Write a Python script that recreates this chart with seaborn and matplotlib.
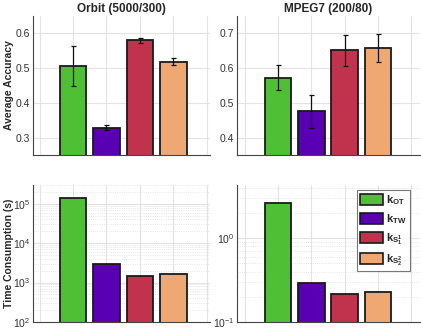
import numpy as np
import pandas as pd
import matplotlib
matplotlib.use("Agg")
import matplotlib.pyplot as plt
import seaborn as sns
from matplotlib.ticker import LogLocator, NullFormatter

sns.set_style("white")
plt.rcParams['font.family'] = ['Liberation Sans', 'DejaVu Sans']
plt.rcParams['mathtext.fontset'] = 'custom'
plt.rcParams['mathtext.rm'] = 'Liberation Sans'
plt.rcParams['mathtext.bf'] = 'Liberation Sans:bold'

# Data
methods = ['OT', 'TW', 'S1', 'S2']
labels = [r'$\mathbf{k}_{\mathbf{OT}}$', r'$\mathbf{k}_{\mathbf{TW}}$',
          r'$\mathbf{k}_{\mathbf{S}_\mathbf{1}^\mathbf{1}}$', r'$\mathbf{k}_{\mathbf{S}_\mathbf{2}^\mathbf{2}}$']
colors = ['#4fbf35', '#5a00b4', '#c1334d', '#f0a872']

orbit_acc = [0.507, 0.328, 0.580, 0.519]
orbit_err = [0.057, 0.007, 0.007, 0.011]
mpeg_acc = [0.573, 0.476, 0.651, 0.658]
mpeg_err = [0.037, 0.048, 0.045, 0.041]
orbit_time = [1.4e5, 3000, 1500, 1650]
mpeg_time = [2.6, 0.29, 0.215, 0.23]

titles = ['Orbit (5000/300)', 'MPEG7 (200/80)']

fig = plt.figure(figsize=(4.21, 3.33), dpi=100)
W, H = 421, 333
def make_ax(l, r, t, b):
    return fig.add_axes([l / W, 1 - b / H, (r - l) / W, (b - t) / H])

ax_tl = make_ax(33, 210, 16, 155)
ax_tr = make_ax(237, 420, 16, 155)
ax_bl = make_ax(33, 210, 185, 322)
ax_br = make_ax(237, 420, 185, 322)

edge = '#1a1a1a'
tick_col = '#333333'

def style(ax, xlim):
    ax.set_xlim(*xlim)
    ax.set_xticks(range(-1, 5))
    ax.set_xticklabels([])
    ax.set_xlabel('')
    ax.set_ylabel('')
    for s in ['top', 'right']:
        ax.spines[s].set_visible(False)
    for s in ['left', 'bottom']:
        ax.spines[s].set_color('#444444')
        ax.spines[s].set_linewidth(0.8)
    ax.tick_params(axis='both', direction='in', length=2.5, colors='#444444',
                   labelcolor=tick_col, labelsize=7.5, pad=2)
    ax.grid(True, which='major', color='#e3e3e3', linewidth=0.8)
    ax.set_axisbelow(True)

def bars(ax, vals, log=False):
    df = pd.DataFrame({'method': methods, 'value': vals})
    sns.barplot(data=df, x='method', y='value', hue='method', palette=colors,
                saturation=1, edgecolor=edge, linewidth=1.3, width=0.8,
                errorbar=None, legend=False, ax=ax,
                log_scale=(False, log) if log else None)

# accuracy
for ax, acc, err, title, ylim, yt, xl in [
        (ax_tl, orbit_acc, orbit_err, titles[0], (0.25, 0.65), [0.3, 0.4, 0.5, 0.6], (-1.2, 4.1)),
        (ax_tr, mpeg_acc, mpeg_err, titles[1], (0.35, 0.75), [0.4, 0.5, 0.6, 0.7], (-1.23, 4.26))]:
    bars(ax, acc)
    ax.errorbar(range(len(acc)), acc, yerr=err, fmt='none', ecolor='#111111',
                elinewidth=0.9, capsize=1.8, capthick=0.9)
    ax.set_ylim(*ylim)
    ax.set_yticks(yt)
    ax.set_yticklabels([f'{v:.1f}' for v in yt])
    style(ax, xl)
    ax.set_title(title, fontsize=8.5, fontweight='bold', pad=3)

ax_tl.set_ylabel('Average Accuracy', fontsize=7.5, fontweight='bold')
ax_tl.yaxis.set_label_coords(-0.105, 0.5)

# time
for ax, t, ylim, xl in [(ax_bl, orbit_time, (1e2, 3e5), (-1.2, 4.1)),
                        (ax_br, mpeg_time, (0.1, 4.3), (-1.23, 4.26))]:
    bars(ax, t, log=True)
    ax.set_yscale('log')
    ax.set_ylim(*ylim)
    style(ax, xl)
    ax.yaxis.set_major_locator(LogLocator(base=10))
    ax.yaxis.set_minor_locator(LogLocator(base=10, subs=np.arange(2, 10)))
    ax.yaxis.set_minor_formatter(NullFormatter())
    ax.tick_params(axis='y', which='minor', direction='in', length=1.5, colors='#444444')
    ax.grid(True, which='minor', axis='y', color='#dddddd', linewidth=0.6, linestyle=':')
    ax.grid(True, which='minor', axis='x', color='#dddddd', linewidth=0.6, linestyle=':')

ax_bl.set_ylabel('Time Consumption (s)', fontsize=7.5, fontweight='bold')
ax_bl.yaxis.set_label_coords(-0.105, 0.5)

handles = [plt.Rectangle((0, 0), 1, 1, facecolor=c, edgecolor=edge, linewidth=1.2) for c in colors]
leg = ax_br.legend(handles, labels, loc='upper right', bbox_to_anchor=(0.95, 0.97),
                   fontsize=8, frameon=True, fancybox=False, handlelength=2.0,
                   handleheight=1.1, handletextpad=0.3, labelspacing=0.45,
                   borderpad=0.3, borderaxespad=0.1)
leg.get_frame().set_edgecolor('#555555')
leg.get_frame().set_linewidth(0.8)

fig.savefig('out.png', dpi=100)
